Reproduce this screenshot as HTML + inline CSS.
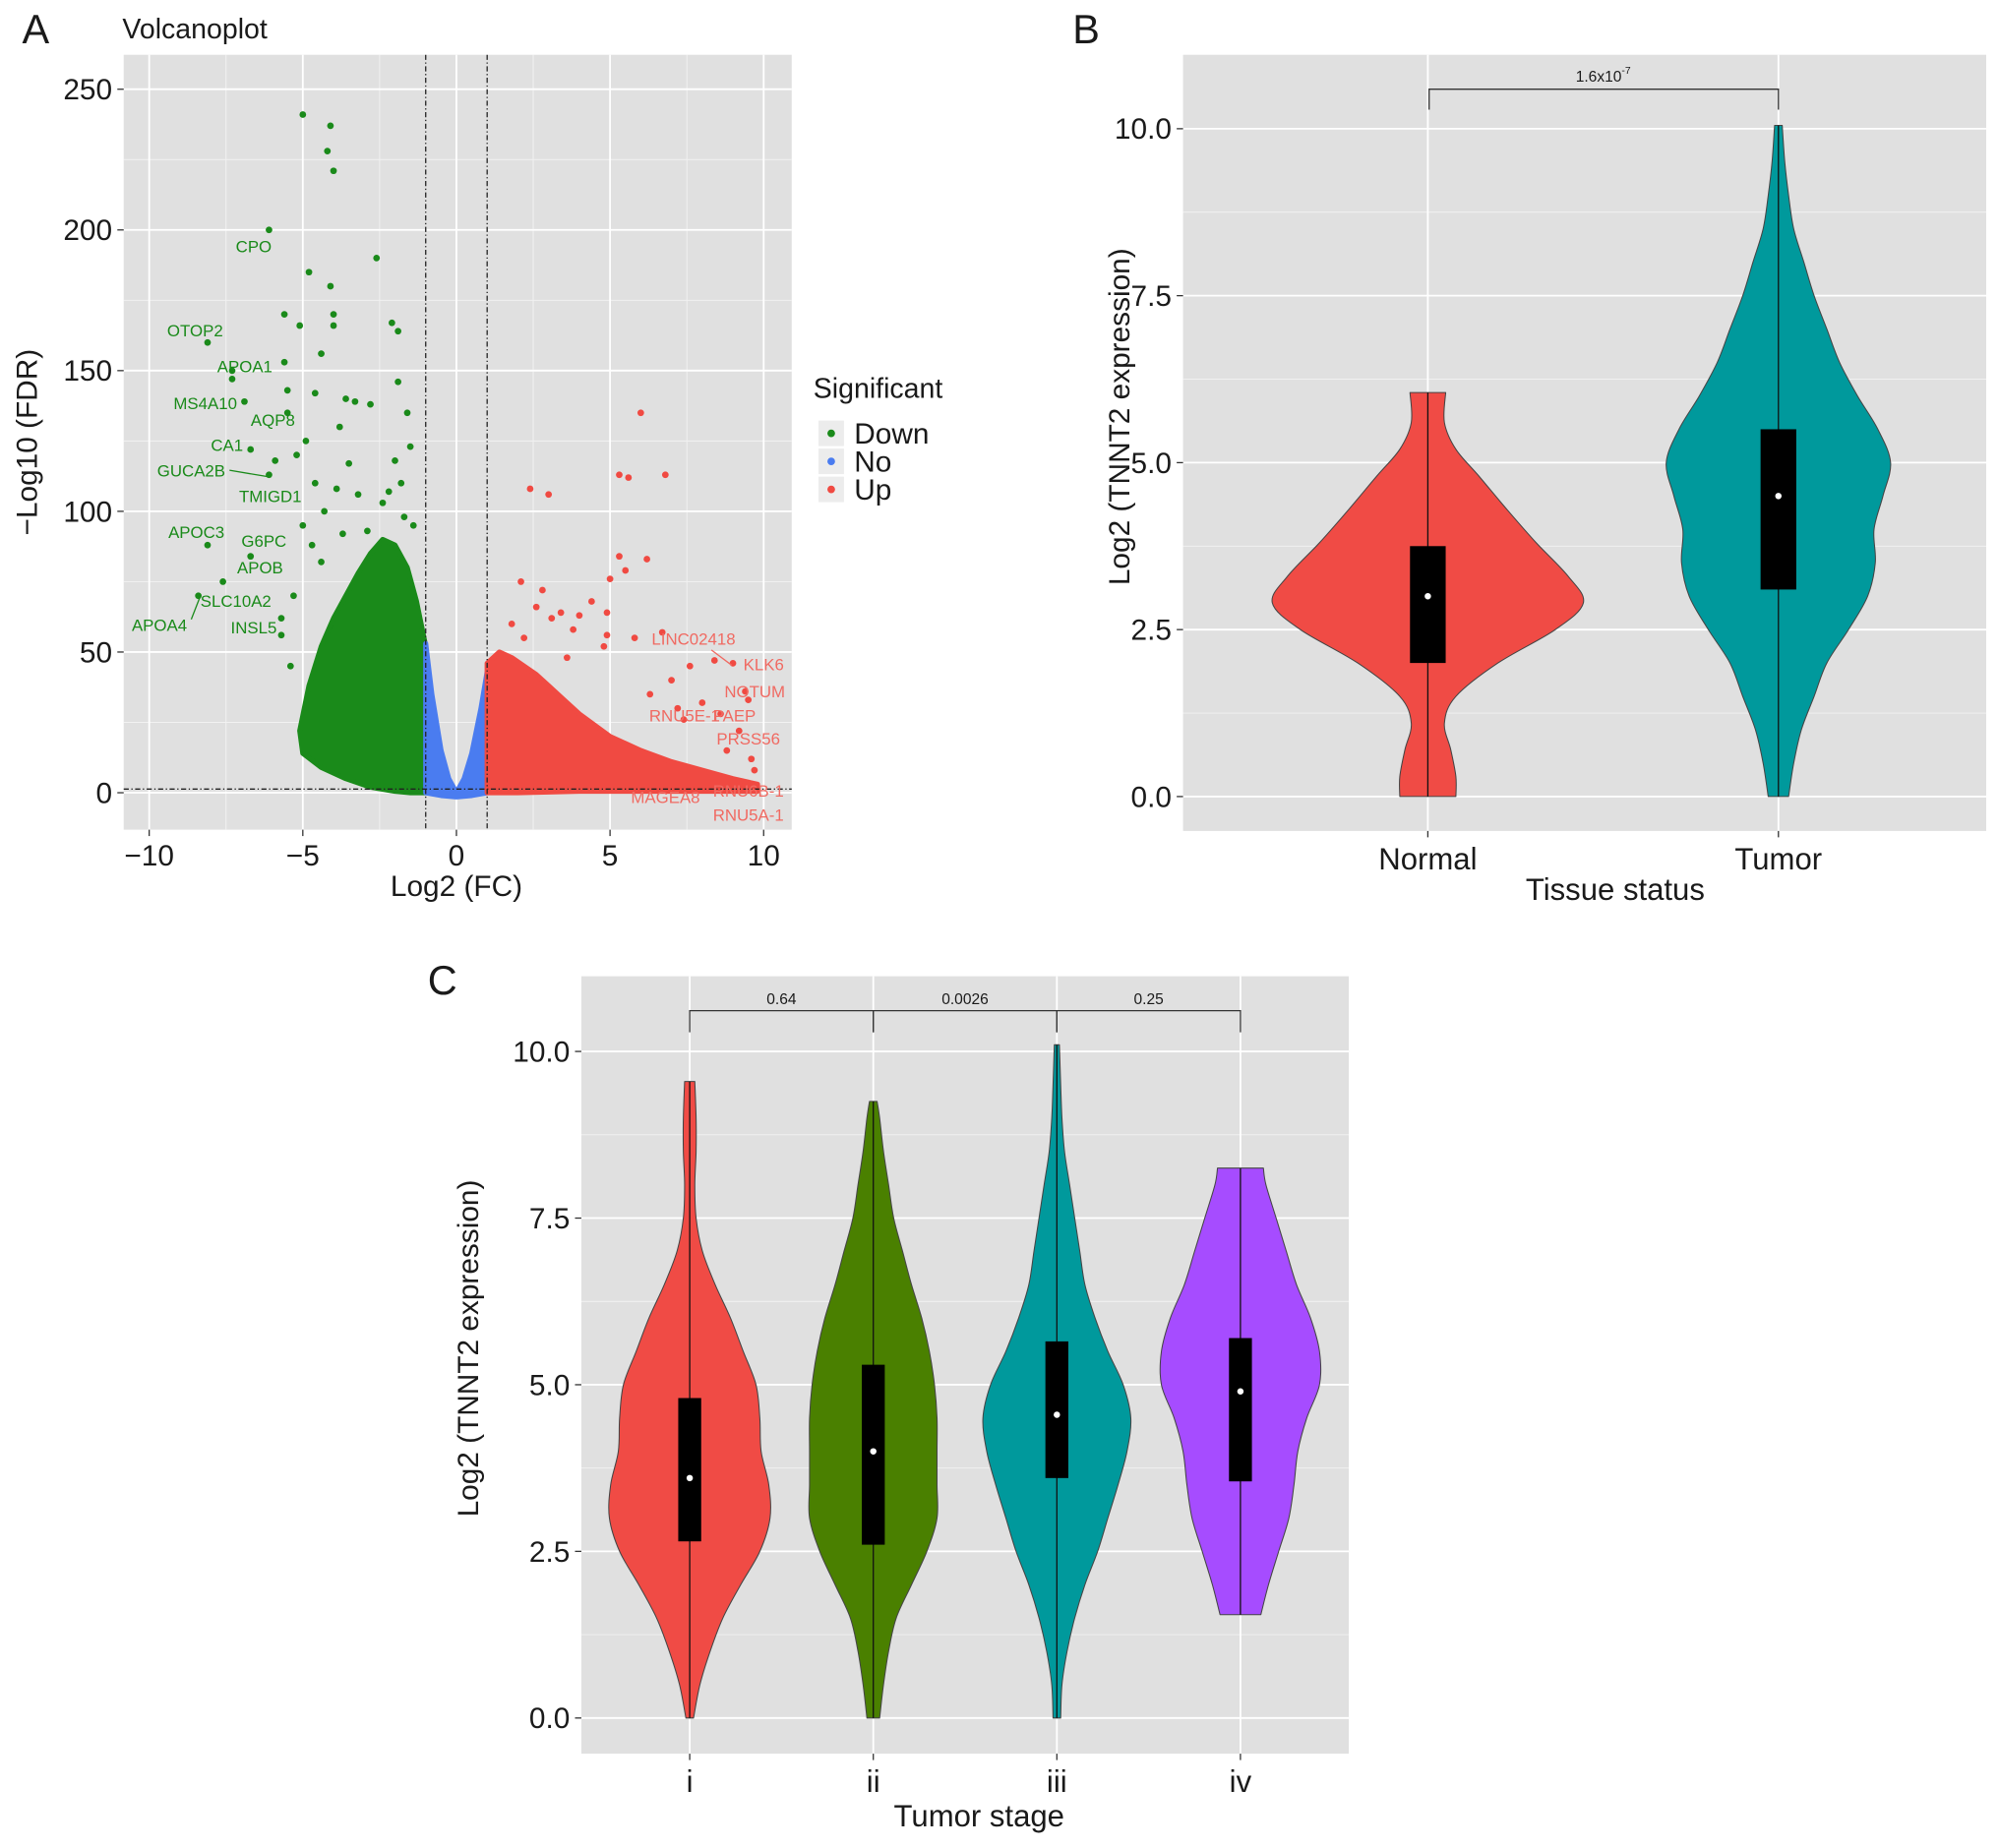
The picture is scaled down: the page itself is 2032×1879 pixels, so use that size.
<!DOCTYPE html>
<html><head><meta charset="utf-8"><style>
html,body{margin:0;padding:0;background:#fff}
svg{display:block;font-family:"Liberation Sans",sans-serif}
</style></head><body>
<svg id="fig" width="2032" height="1879" viewBox="0 0 1568 1450" xmlns="http://www.w3.org/2000/svg"></svg>
<script>
// ---------- DATA ----------
const downX=[-5.0,-4.1,-4.2,-4.0,-6.1,-2.6,-4.8,-4.1,-4.0,-4.0,-5.6,-5.1,-2.1,-1.9,-8.1,-5.6,-4.4,-7.3,-7.3,-5.5,-4.6,-6.9,-6.7,-6.1,-8.1,-6.7,-8.4,-7.6,-5.7,-5.7,-3.6,-3.3,-2.8,-1.6,-1.5,-1.9,-2.0,-4.9,-5.2,-5.5,-3.8,-1.8,-1.7,-5.9,-5.4,-4.6,-4.3,-3.9,-3.2,-2.4,-2.2,-1.4,-5.0,-4.7,-4.4,-3.5,-2.9,-3.7,-5.3];
const downY=[241,237,228,221,200,190,185,180,170,166,170,166,167,164,160,153,156,150,147,143,142,139,122,113,88,84,70,75,62,56,140,139,138,135,123,146,118,125,120,135,130,110,98,118,45,110,100,108,106,103,107,95,95,88,82,117,93,92,70];
const upX=[6.0,5.3,5.6,6.8,2.4,3.0,5.3,6.2,2.8,5.0,5.5,4.4,4.9,3.4,6.7,5.8,8.4,9.0,7.6,9.4,9.5,2.1,2.6,3.1,3.8,4.0,7.0,8.0,8.6,9.2,9.6,9.7,8.8,7.4,4.9,4.8,3.6,2.2,1.8,6.3,7.2];
const upY=[135,113,112,113,108,106,84,83,72,76,79,68,64,64,57,55,47,46,45,36,33,75,66,62,58,63,40,32,28,22,12,8,15,26,56,52,48,55,60,35,30];
const downEnvX=[-1,-1,-1.3,-1.6,-2.0,-2.4,-2.8,-3.2,-3.6,-4.0,-4.4,-4.8,-5.1,-5.0,-4.4,-3.6,-2.8,-2.0,-1.5];
const downEnvY=[0,52,68,80,88,90,85,78,70,62,52,38,22,14,9,5,2,0.5,0];
const noEnvX=[-1,-1,-0.8,-0.5,-0.25,0,0.25,0.5,0.8,1,1,0.5,0,-0.5];
const noEnvY=[0,53,35,15,5,0,5,14,30,43,0,-1,-1.5,-1];
const upEnvX=[1,1,1.4,1.8,2.2,2.6,3,3.5,4,5,6,7,8,9,9.8,9.8,8,6,4,2];
const upEnvY=[0,46,50,48,45,42,38,33,28,20,15,11,8,5,3,0.5,0.5,0.5,0.5,0];
const catsB=["Normal","Tumor"];
const vB_y=[[0,0.3,0.7,1.1,1.5,2.0,2.5,2.9,3.3,3.8,4.3,4.8,5.2,5.6,6.05],
 [0,0.5,1,1.5,2,2.5,3,3.5,4,4.5,5,5.5,6,6.5,7,7.5,8,8.5,9,9.5,10.05]];
const vB_w=[[22,22,18,13,22,55,100,122,110,85,62,40,22,13,14],
 [8,12,18,28,38,55,70,76,75,82,88,78,62,48,38,28,20,12,8,5,3]];
const boxB_q1=[2.0,3.1], boxB_q3=[3.75,5.5], boxB_med=[3.0,4.5];
const catsC=["i","ii","iii","iv"];
const vC_y=[[0,0.5,1,1.5,2,2.5,3,3.5,4,4.5,5,5.5,6,6.5,7,7.5,8,8.5,9,9.55],
 [0,0.5,1,1.5,2,2.5,3,3.5,4,4.5,5,5.5,6,6.5,7,7.5,8,8.5,9,9.25],
 [0,0.5,1,1.5,2,2.5,3,3.5,4,4.5,5,5.5,6,6.5,7,7.5,8,8.5,9,9.5,10.1],
 [1.55,2,2.5,3,3.5,4,4.5,5,5.5,6,6.5,7,7.5,8,8.25]];
const vC_w=[[3,8,16,26,40,55,63,62,56,55,52,42,32,20,10,5,4,5,5,4],
 [5,8,12,18,30,42,50,50,50,50,48,44,38,30,23,16,12,8,5,3],
 [3,4,8,14,22,32,40,48,55,58,52,40,30,22,18,14,10,6,4,3,2],
 [16,22,30,38,42,45,52,62,62,55,44,36,28,20,18]];
const boxC_q1=[2.65,2.6,3.6,3.55], boxC_q3=[4.8,5.3,5.65,5.7], boxC_med=[3.6,4.0,4.55,4.9];
const yTicksA=[0,50,100,150,200,250], xTicksA=[-10,-5,0,5,10];
const yTicksV=[0,2.5,5,7.5,10], yTickLabV=["0.0","2.5","5.0","7.5","10.0"];

// ---------- helpers ----------
const svg=document.getElementById('fig');const NS="http://www.w3.org/2000/svg";
function mk(tag,attrs,parent){const e=document.createElementNS(NS,tag);for(const k in attrs)e.setAttribute(k,attrs[k]);(parent||svg).appendChild(e);return e;}
function txt(s,x,y,size,attrs,parent){const t=mk('text',Object.assign({x:x,y:y,'font-size':size,fill:'#1a1a1a'},attrs||{}),parent);t.textContent=s;return t;}
function smooth(p){let d='M'+p[0][0]+','+p[0][1];for(let i=0;i<p.length-1;i++){const a=p[Math.max(0,i-1)],b=p[i],c=p[i+1],e=p[Math.min(p.length-1,i+2)];
 d+=` C${b[0]+(c[0]-a[0])/6},${b[1]+(c[1]-a[1])/6} ${c[0]-(e[0]-b[0])/6},${c[1]-(e[1]-b[1])/6} ${c[0]},${c[1]}`;}return d;}
const BG="#e0e0e0";

// ---------- Panel A ----------
const gA=mk('g',{});


const xA=v=>358+v*24.1, yA=v=>622-v*2.208;
let r=mk('rect',{x:97,y:43,width:524,height:608,fill:BG},gA);

for(let v=-12.5;v<=12.5;v+=5){const x=xA(v);if(x>97&&x<621)mk('line',{x1:x,x2:x,y1:43,y2:651,stroke:'#f2f2f2','stroke-width':0.7},gA);}
for(let v=25;v<=275;v+=50){const y=yA(v);if(y>43)mk('line',{x1:97,x2:621,y1:y,y2:y,stroke:'#f2f2f2','stroke-width':0.7},gA);}
xTicksA.forEach(v=>{mk('line',{x1:xA(v),x2:xA(v),y1:43,y2:651,stroke:'#fff','stroke-width':1.4},gA);mk('line',{x1:xA(v),x2:xA(v),y1:651,y2:656,stroke:'#333'},gA);
 const t=txt(v<0?'−'+(-v):String(v),xA(v),679,23,{'text-anchor':'middle'},gA);});
yTicksA.forEach(v=>{mk('line',{x1:97,x2:621,y1:yA(v),y2:yA(v),stroke:'#fff','stroke-width':1.4},gA);mk('line',{x1:92,x2:97,y1:yA(v),y2:yA(v),stroke:'#333'},gA);
 const t=txt(String(v),88,yA(v)+8,23,{'text-anchor':'end'},gA);});
function env(xs,ys,col,name){const p=xs.map((x,i)=>xA(x)+','+yA(ys[i])).join(' ');const e=mk('polygon',{points:p,fill:col,stroke:col,'stroke-width':4,'stroke-linejoin':'round'},gA);}
env(downEnvX,downEnvY,'#1a8a1a','down-dense-cloud');
env(noEnvX,noEnvY,'#4a7cf0','no-dense-cloud');
env(upEnvX,upEnvY,'#f04a42','up-dense-cloud');
downX.forEach((x,i)=>{const c=mk('circle',{cx:xA(x),cy:yA(downY[i]),r:2.6,fill:'#1a8a1a'},gA);});
upX.forEach((x,i)=>{const c=mk('circle',{cx:xA(x),cy:yA(upY[i]),r:2.6,fill:'#f04a42'},gA);});
[-1,1].forEach(v=>mk('line',{x1:xA(v),x2:xA(v),y1:43,y2:651,stroke:'#222','stroke-dasharray':'4,2,1,2','stroke-width':1},gA));
mk('line',{x1:97,x2:621,y1:yA(1.3),y2:yA(1.3),stroke:'#222','stroke-dasharray':'4,2,1,2','stroke-width':1},gA);
const gl=[["CPO",199,198],["OTOP2",153,264],["APOA1",192,292],["MS4A10",161,321],["AQP8",214,334],["CA1",178,354],["GUCA2B",150,374],["TMIGD1",212,394],["APOC3",154,422],["G6PC",207,429],["APOB",204,450],["SLC10A2",185,476],["APOA4",125,495],["INSL5",199,497]];
gl.forEach(l=>{const t=txt(l[0],l[1],l[2],13,{'text-anchor':'middle',fill:'#1a8a1a'},gA);});
const rl=[["LINC02418",544,506],["KLK6",599,526],["NOTUM",592,547],["RNU5E-1",537,566],["PAEP",576,566],["PRSS56",587,584],["RNU6B-1",587,625],["MAGEA8",522,630],["RNU5A-1",587,644]];
rl.forEach(l=>{const t=txt(l[0],l[1],l[2],13,{'text-anchor':'middle',fill:'#f06a62'},gA);});
mk('line',{x1:180,y1:369,x2:210,y2:374,stroke:'#1a8a1a'},gA);
mk('line',{x1:150,y1:486,x2:157,y2:468,stroke:'#1a8a1a'},gA);
mk('line',{x1:558,y1:510,x2:574,y2:522,stroke:'#f06a62'},gA);
let t;
t=txt('Volcanoplot',96,30,22,{},gA);
t=txt('Log2 (FC)',358,703,23,{'text-anchor':'middle'},gA);
t=txt('−Log10 (FDR)',0,0,23,{'text-anchor':'middle',transform:'translate(29,347) rotate(-90)'},gA);
t=txt('Significant',638,312,22,{},gA);
[['Down','#1a8a1a'],['No','#4a7cf0'],['Up','#f04a42']].forEach((l,i)=>{const y=330+i*22;
 const k=mk('rect',{x:642,y:y,width:20,height:20,fill:'#ececec'},gA);
 mk('circle',{cx:652,cy:y+10,r:3,fill:l[1]},gA);
 const tt=txt(l[0],670,y+18,23,{},gA);});

// ---------- violin helper ----------
function violinPanel(g,x0,y0,w,h,yZero,pxPer,cx,cats,ys,ws,q1,q3,med,cols,boxW){
 const yS=v=>yZero-v*pxPer;
 const bg=mk('rect',{x:x0,y:y0,width:w,height:h,fill:BG},g);
 for(let v=1.25;v<=11;v+=2.5){const y=yS(v);if(y>y0)mk('line',{x1:x0,x2:x0+w,y1:y,y2:y,stroke:'#f2f2f2','stroke-width':0.7},g);}
 yTicksV.forEach((v,i)=>{mk('line',{x1:x0,x2:x0+w,y1:yS(v),y2:yS(v),stroke:'#fff','stroke-width':1.4},g);mk('line',{x1:x0-5,x2:x0,y1:yS(v),y2:yS(v),stroke:'#333'},g);
  const tt=txt(yTickLabV[i],x0-9,yS(v)+8,23,{'text-anchor':'end'},g);});
 cats.forEach((c,i)=>{mk('line',{x1:cx[i],x2:cx[i],y1:y0,y2:y0+h,stroke:'#fff','stroke-width':1.4},g);mk('line',{x1:cx[i],x2:cx[i],y1:y0+h,y2:y0+h+5,stroke:'#333'},g);
  const tt=txt(c,cx[i],y0+h+30,24,{'text-anchor':'middle'},g);
  const Y=ys[i],W=ws[i];
  const L=Y.map((y,k)=>[cx[i]-W[k],yS(y)]);const R=Y.map((y,k)=>[cx[i]+W[k],yS(y)]).reverse();
  const d=smooth(L)+' L'+R[0][0]+','+R[0][1]+smooth(R).slice(smooth(R).indexOf(' C'))+' Z';
  const v=mk('path',{d:d,fill:cols[i],stroke:'#444','stroke-width':0.8,'stroke-linejoin':'round'},g);
  
  mk('line',{x1:cx[i],x2:cx[i],y1:yS(Y[0]),y2:yS(Y[Y.length-1]),stroke:'#111','stroke-width':1},g);
  const b=mk('rect',{x:cx[i]-boxW/2,y:yS(q3[i]),width:boxW,height:yS(q1[i])-yS(q3[i]),fill:'#000'},g);
  
  const m=mk('circle',{cx:cx[i],cy:yS(med[i]),r:2.5,fill:'#fff'},g);
 });
}
// ---------- Panel B ----------
const gB=mk('g',{});


violinPanel(gB,928,43,630,609,625,52.4,[1120,1395],catsB,vB_y,vB_w,boxB_q1,boxB_q3,boxB_med,['#f04b45','#00999c'],28);
mk('path',{d:'M1121,86 V70 H1395 V86',fill:'none',stroke:'#333','stroke-width':1},gB);
t=txt('1.6x10',1254,64,12,{'text-anchor':'middle'},gB);
txt('-7',1272,58,8,{'text-anchor':'start'},gB);
t=txt('Tissue status',1267,706,24,{'text-anchor':'middle'},gB);
t=txt('Log2 (TNNT2 expression)',0,0,23,{'text-anchor':'middle',transform:'translate(886,327) rotate(-90)'},gB);
// ---------- Panel C ----------
const gC=mk('g',{});


violinPanel(gC,456,766,602,610,1348,52.3,[541,685,829,973],catsC,vC_y,vC_w,boxC_q1,boxC_q3,boxC_med,['#f04b45','#4a8000','#00999c','#a64cff'],18);
[[541,685,'0.64'],[685,829,'0.0026'],[829,973,'0.25']].forEach(b=>{mk('path',{d:`M${b[0]},810 V793 H${b[1]} V810`,fill:'none',stroke:'#333','stroke-width':1},gC);
 const tt=txt(b[2],(b[0]+b[1])/2,788,12,{'text-anchor':'middle'},gC);});
t=txt('Tumor stage',768,1433,24,{'text-anchor':'middle'},gC);
t=txt('Log2 (TNNT2 expression)',0,0,23,{'text-anchor':'middle',transform:'translate(375,1058) rotate(-90)'},gC);
[['A',28,34],['B',852,34],['C',347,780]].forEach(l=>{const tt=txt(l[0],l[1],l[2],32,{'text-anchor':'middle'});});
</script>
</body></html>
